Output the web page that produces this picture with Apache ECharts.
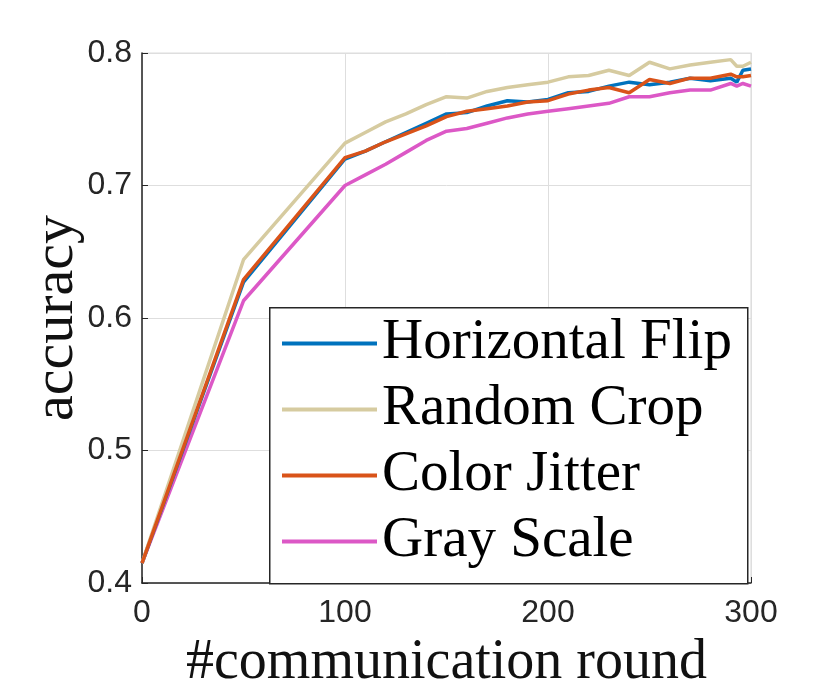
<!DOCTYPE html>
<html>
<head>
<meta charset="utf-8">
<script src="https://cdn.jsdelivr.net/npm/echarts@6/dist/echarts.min.js"></script>
<style>
  html,body{margin:0;padding:0;background:#fff;}
  #container{width:830px;height:698px;}
</style>
</head>
<body>
<div id="container"></div>
<script>
// rounds where accuracy was logged
var rounds = [0,50,100,110,120,130,140,150,160,170,180,190,200,210,220,230,240,250,260,270,280,290,293,296,300];

var horizontalFlip = [0.415,0.627,0.720,0.726,0.733,0.740,0.747,0.754,0.755,0.760,0.764,0.763,0.765,0.770,0.771,0.775,0.778,0.776,0.778,0.781,0.779,0.781,0.778,0.787,0.788];
var randomCrop     = [0.415,0.644,0.732,0.740,0.748,0.754,0.761,0.767,0.766,0.771,0.774,0.776,0.778,0.782,0.783,0.787,0.783,0.793,0.788,0.791,0.793,0.795,0.790,0.790,0.793];
var colorJitter    = [0.415,0.629,0.721,0.726,0.733,0.739,0.745,0.752,0.756,0.758,0.760,0.763,0.764,0.769,0.772,0.774,0.770,0.780,0.777,0.781,0.781,0.784,0.782,0.782,0.783];
var grayScale      = [0.415,0.613,0.700,0.708,0.716,0.725,0.734,0.741,0.743,0.747,0.751,0.754,0.756,0.758,0.760,0.762,0.767,0.767,0.770,0.772,0.772,0.777,0.775,0.777,0.775];

var names  = ["Horizontal Flip","Random Crop","Color Jitter","Gray Scale"];
var colors = ["#0072bd","#d6cba0","#d95319","#dc58c6"];
var xTicks = [0,100,200,300];
var yTicks = [0.4,0.5,0.6,0.7,0.8];

var allData = [horizontalFlip,randomCrop,colorJitter,grayScale];
// draw order: gray, flip, crop, jitter on top
var order = [3,0,1,2];

var series = order.map(function(k){
    return {
        name: names[k],
        type: 'line',
        symbol: 'none',
        z: 2+order.indexOf(k),
        lineStyle: {color: colors[k], width: 3.5},
        itemStyle: {color: colors[k]},
        data: rounds.map(function(r,i){ return [r, allData[k][i]]; })
    };
});

var dom = document.getElementById("container");
var myChart = echarts.init(dom);
var serif = '"Liberation Serif","Times New Roman",serif';
var sans = '"Liberation Sans",Helvetica,Arial,sans-serif';

var option = {
    backgroundColor: '#ffffff',
    animation: false,
    grid: {left: 142, top: 53, width: 609, height: 530, show: true, borderColor: '#dedede', borderWidth: 1.2},
    xAxis: {
        type: 'value', min: xTicks[0], max: xTicks[xTicks.length-1], interval: 100,
        name: '#communication round', nameLocation: 'middle', nameGap: 52,
        nameTextStyle: {fontFamily: serif, fontSize: 56, color: '#111', lineHeight: 56},
        axisLine: {show: true, lineStyle: {color: '#262626', width: 1.5}},
        axisTick: {show: true, inside: true, length: 6, lineStyle: {color: '#262626'}},
        axisLabel: {fontFamily: sans, fontSize: 32, color: '#262626', margin: 14},
        splitLine: {show: true, lineStyle: {color: '#dedede', width: 1}}
    },
    yAxis: {
        type: 'value', min: yTicks[0], max: yTicks[yTicks.length-1], interval: 0.1,
        axisLine: {show: true, lineStyle: {color: '#262626', width: 1.5}},
        axisTick: {show: true, inside: true, length: 6, lineStyle: {color: '#262626'}},
        axisLabel: {fontFamily: sans, fontSize: 32, color: '#262626', margin: 10,
            formatter: function(v){ return v.toFixed(1); }},
        splitLine: {show: true, lineStyle: {color: '#dedede', width: 1}}
    },
    legend: {
        data: names,
        orient: 'vertical',
        left: 282, top: 315,
        z: 30,
        icon: 'rect',
        itemWidth: 95, itemHeight: 4,
        itemGap: 9,
        itemStyle: {borderWidth: 0},
        textStyle: {fontFamily: serif, fontSize: 57, color: '#000', lineHeight: 57},
        padding: 0
    },
    graphic: [{
        type: 'rect', left: 269, top: 307, z: 10,
        shape: {width: 478, height: 276},
        style: {fill: '#fff', stroke: '#262626', lineWidth: 1.5}
    }, {
        // y axis title
        type: 'text', x: 57, y: 318, rotation: Math.PI/2,
        style: {text: 'accuracy', font: '58px ' + serif, fill: '#111',
                textAlign: 'center', textVerticalAlign: 'middle'}
    }],
    series: series
};
myChart.setOption(option);
</script>
</body>
</html>
